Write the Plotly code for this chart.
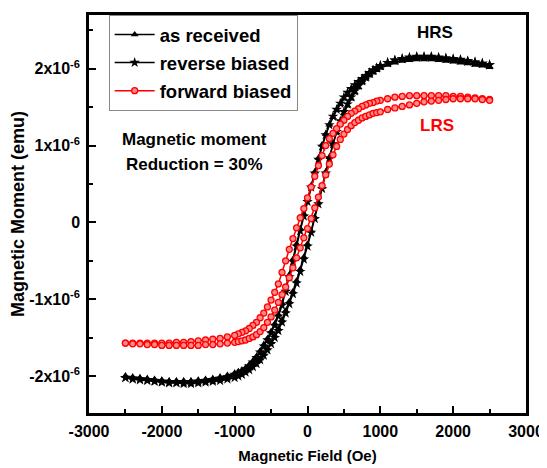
import plotly.graph_objects as go

# Field grid (Oe)
H = [-2500, -2400, -2300, -2200, -2100, -2000, -1900, -1800, -1700, -1600, -1500, -1400, -1300, -1200, -1100, -1000,
     -950, -900, -850, -800, -750, -700, -650, -600, -550, -500, -450, -400, -350, -300, -250, -200, -150, -100, -50,
     0, 50, 100, 150, 200, 250, 300, 350, 400, 450, 500, 550, 600, 650, 700, 750, 800, 850, 900, 950,
     1000, 1100, 1200, 1300, 1400, 1500, 1600, 1700, 1800, 1900, 2000, 2100, 2200, 2300, 2400, 2500]

# Magnetic moment in units of 1e-6 emu
as_received_up = [-2.00, -2.02, -2.03, -2.04, -2.05, -2.06, -2.07, -2.07, -2.08, -2.07, -2.07, -2.06, -2.05, -2.04, -2.02, -2.00,
                  -1.98, -1.96, -1.93, -1.90, -1.86, -1.82, -1.77, -1.71, -1.64, -1.56, -1.47, -1.38, -1.27, -1.15, -1.03, -0.90, -0.76, -0.61, -0.45,
                  -0.28, -0.11, 0.07, 0.26, 0.46, 0.66, 0.85, 1.02, 1.17, 1.30, 1.42, 1.52, 1.61, 1.69, 1.76, 1.82, 1.87, 1.91, 1.95, 1.98,
                  2.01, 2.05, 2.08, 2.10, 2.11, 2.12, 2.12, 2.12, 2.11, 2.10, 2.09, 2.08, 2.07, 2.05, 2.04, 2.02]
as_received_dn = [-2.00, -2.01, -2.02, -2.03, -2.04, -2.05, -2.06, -2.06, -2.06, -2.06, -2.05, -2.04, -2.03, -2.01, -1.99, -1.96,
                  -1.94, -1.92, -1.89, -1.85, -1.80, -1.74, -1.67, -1.59, -1.51, -1.42, -1.32, -1.20, -1.05, -0.87, -0.68, -0.48, -0.28, -0.08, 0.11,
                  0.30, 0.48, 0.66, 0.84, 1.01, 1.15, 1.27, 1.37, 1.46, 1.54, 1.61, 1.67, 1.72, 1.77, 1.81, 1.85, 1.89, 1.93, 1.96, 1.99,
                  2.02, 2.06, 2.09, 2.11, 2.13, 2.14, 2.14, 2.14, 2.13, 2.12, 2.11, 2.10, 2.08, 2.07, 2.05, 2.03]
reverse_up = [-2.02, -2.04, -2.05, -2.06, -2.07, -2.08, -2.09, -2.09, -2.10, -2.10, -2.09, -2.08, -2.07, -2.06, -2.04, -2.02,
              -2.00, -1.98, -1.95, -1.92, -1.88, -1.84, -1.79, -1.73, -1.66, -1.58, -1.50, -1.41, -1.30, -1.18, -1.06, -0.93, -0.79, -0.64, -0.48,
              -0.31, -0.13, 0.05, 0.24, 0.44, 0.64, 0.84, 1.02, 1.18, 1.32, 1.44, 1.54, 1.63, 1.71, 1.78, 1.84, 1.89, 1.94, 1.98, 2.01,
              2.04, 2.08, 2.11, 2.13, 2.14, 2.15, 2.15, 2.15, 2.14, 2.13, 2.12, 2.11, 2.10, 2.08, 2.07, 2.05]
reverse_dn = [-2.02, -2.03, -2.04, -2.05, -2.06, -2.07, -2.08, -2.08, -2.08, -2.08, -2.07, -2.06, -2.05, -2.03, -2.01, -1.98,
              -1.96, -1.94, -1.91, -1.87, -1.82, -1.76, -1.69, -1.61, -1.53, -1.44, -1.34, -1.22, -1.08, -0.90, -0.71, -0.51, -0.31, -0.11, 0.08,
              0.27, 0.46, 0.64, 0.82, 0.99, 1.14, 1.27, 1.38, 1.47, 1.55, 1.63, 1.69, 1.74, 1.79, 1.83, 1.87, 1.91, 1.95, 1.98, 2.01,
              2.04, 2.08, 2.11, 2.13, 2.15, 2.16, 2.16, 2.16, 2.15, 2.14, 2.13, 2.12, 2.10, 2.09, 2.07, 2.05]
forward_up = [-1.57, -1.58, -1.58, -1.59, -1.59, -1.60, -1.60, -1.60, -1.60, -1.60, -1.60, -1.59, -1.59, -1.58, -1.57, -1.56,
              -1.55, -1.54, -1.53, -1.51, -1.49, -1.46, -1.42, -1.37, -1.30, -1.23, -1.14, -1.04, -0.94, -0.84, -0.72, -0.59, -0.46, -0.33, -0.20,
              -0.08, 0.05, 0.19, 0.33, 0.48, 0.62, 0.76, 0.88, 0.99, 1.08, 1.15, 1.21, 1.26, 1.30, 1.33, 1.36, 1.38, 1.40, 1.42, 1.43,
              1.44, 1.47, 1.49, 1.51, 1.53, 1.55, 1.57, 1.58, 1.59, 1.60, 1.61, 1.61, 1.61, 1.61, 1.60, 1.59]
forward_dn = [-1.57, -1.57, -1.57, -1.57, -1.57, -1.57, -1.57, -1.56, -1.56, -1.55, -1.54, -1.53, -1.52, -1.51, -1.49, -1.47,
              -1.45, -1.43, -1.41, -1.38, -1.34, -1.30, -1.24, -1.18, -1.10, -1.01, -0.91, -0.80, -0.65, -0.50, -0.35, -0.21, -0.07, 0.06, 0.18,
              0.32, 0.46, 0.60, 0.74, 0.87, 1.00, 1.09, 1.16, 1.22, 1.28, 1.33, 1.38, 1.42, 1.45, 1.48, 1.51, 1.53, 1.55, 1.56, 1.58,
              1.59, 1.61, 1.63, 1.64, 1.65, 1.65, 1.65, 1.65, 1.65, 1.65, 1.64, 1.64, 1.63, 1.62, 1.61, 1.60]

y_tick_vals = [-2, -1, 0, 1, 2]
y_tick_text = ["-2x10<sup>-6</sup>", "-1x10<sup>-6</sup>", "0", "1x10<sup>-6</sup>", "2x10<sup>-6</sup>"]
x_tick_vals = [-3000, -2000, -1000, 0, 1000, 2000, 3000]
x_tick_text = ["-3000", "-2000", "-1000", "0", "1000", "2000", "3000"]

FONT = "Liberation Sans, Arial, sans-serif"

def loop(dn, up):
    return H[::-1] + H, dn[::-1] + up

fig = go.Figure()
series = [
    ("as received", as_received_dn, as_received_up, "black",
     dict(symbol="triangle-up", size=7, color="black")),
    ("reverse biased", reverse_dn, reverse_up, "black",
     dict(symbol="star", size=8, color="black")),
    ("forward biased", forward_dn, forward_up, "#ff0000",
     dict(symbol="circle", size=6, color="#ff8a8a", line=dict(color="#ff0000", width=1.3))),
]
for i, (name, dn, up, col, mk) in enumerate(series):
    xs, ys = loop(dn, up)
    fig.add_trace(go.Scatter(x=xs, y=ys, mode="lines+markers", name=name,
                             line=dict(color=col, width=1.5), marker=mk,
                             legendgroup=f"g{i}"))

axis_common = dict(showline=True, linecolor="black", linewidth=2.5, mirror=True,
                   ticks="inside", tickcolor="black", tickwidth=2, ticklen=7,
                   showgrid=False, zeroline=False, automargin=False,
                   tickfont=dict(family=FONT, size=16, color="black", weight="bold"))

fig.update_xaxes(range=[-3000, 3000], tickmode="array", tickvals=x_tick_vals, ticktext=x_tick_text,
                 minor=dict(tickmode="array", tickvals=[-2500, -1500, -500, 500, 1500, 2500],
                            ticks="inside", ticklen=4, tickwidth=2, tickcolor="black"),
                 ticklabelstandoff=2,
                 title=dict(text="Magnetic Field (Oe)", font=dict(family=FONT, size=15, color="black", weight="bold"),
                            standoff=12),
                 **axis_common)
fig.update_yaxes(range=[-2.48, 2.70], tickmode="array", tickvals=y_tick_vals, ticktext=y_tick_text,
                 minor=dict(tickmode="array", tickvals=[-1.5, -0.5, 0.5, 1.5, 2.5],
                            ticks="inside", ticklen=4, tickwidth=2, tickcolor="black"),
                 ticklabelstandoff=3,
                 title=dict(text="Magnetic Moment (emu)", font=dict(family=FONT, size=18, color="black", weight="bold"),
                            standoff=2),
                 **axis_common)

fig.add_annotation(x=1755, y=2.47, text="HRS", showarrow=False,
                   font=dict(family=FONT, size=17, color="black", weight="bold"))
fig.add_annotation(x=1780, y=1.26, text="LRS", showarrow=False,
                   font=dict(family=FONT, size=17, color="#ff0000", weight="bold"))
fig.add_annotation(x=-1547, y=1.076, text="Magnetic moment", showarrow=False,
                   font=dict(family=FONT, size=17, color="black", weight="bold"))
fig.add_annotation(x=-1547, y=0.75, text="Reduction = 30%", showarrow=False,
                   font=dict(family=FONT, size=17, color="black", weight="bold"))

# page body has an 8px margin, so the figure is sized to fit the 547x468 window
fig.update_layout(
    width=539, height=460,
    margin=dict(l=81, r=21, t=7, b=55),
    paper_bgcolor="white", plot_bgcolor="white",
    legend=dict(x=0.045, y=1.0, xanchor="left", yanchor="top",
                bgcolor="white", bordercolor="#888888", borderwidth=1,
                font=dict(family=FONT, size=18.5, color="black", weight="bold"),
                tracegroupgap=1, itemwidth=40),
    showlegend=True,
)

fig.write_html("out.html")
